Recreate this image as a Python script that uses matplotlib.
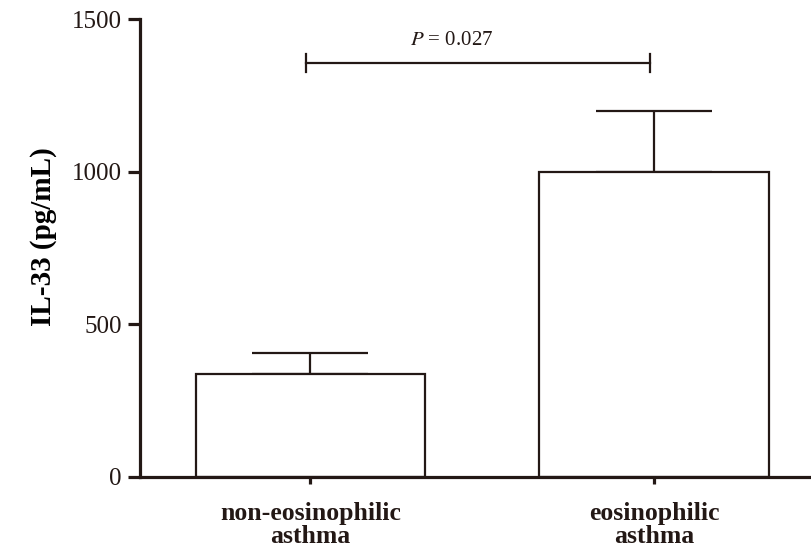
import matplotlib.pyplot as plt

plt.rcParams['font.family'] = ['Liberation Serif', 'DejaVu Serif']

groups = ['non-eosinophilic\nasthma', 'eosinophilic\nasthma']
means = [337, 1000]
sem = [70, 198]
bracket_y = 1355

ink = '#231815'

fig = plt.figure(figsize=(8.12, 5.48), dpi=100)
ax = fig.add_axes([0.1724, 0.1296, 0.8276, 0.8357])

x = [0, 1]
ax.bar(x, means, width=0.667, color='white', edgecolor=ink, linewidth=1.6, zorder=2)
ax.errorbar(x, means, yerr=[[0, 0], sem], fmt='none', ecolor=ink,
            elinewidth=1.6, capsize=42, capthick=1.6, zorder=1)

# significance bracket
bx = [x[0] - 0.012, x[1] - 0.012]
ax.plot(bx, [bracket_y, bracket_y], color=ink, lw=1.6, clip_on=False)
for xx in bx:
    ax.plot([xx, xx], [bracket_y - 30, bracket_y + 30], color=ink, lw=1.6, clip_on=False)
ax.text(0.412, bracket_y + 45, r'$\mathit{P}$ = 0.027', ha='center', va='bottom',
        fontsize=15, color=ink, math_fontfamily='stix')

ax.set_xlim(-0.496, 1.46)
ax.set_ylim(0, 1500)
ax.set_yticks([0, 500, 1000, 1500])
ax.set_xticks(x)
ax.set_xticklabels(groups, fontsize=18.5, fontweight='bold', linespacing=1.0)
ax.set_ylabel('IL-33 (pg/mL)', fontsize=21, fontweight='bold')
ax.yaxis.set_label_coords(-0.124, 0.524)

for side in ['top', 'right']:
    ax.spines[side].set_visible(False)
for side in ['left', 'bottom']:
    ax.spines[side].set_linewidth(2.3)
    ax.spines[side].set_color(ink)
ax.tick_params(axis='y', length=9, width=2.3, labelsize=18, color=ink, labelcolor=ink, pad=4)
ax.tick_params(axis='x', length=5, width=2.3, color=ink, labelcolor=ink, pad=13)

fig.savefig('out.png', dpi=100)
